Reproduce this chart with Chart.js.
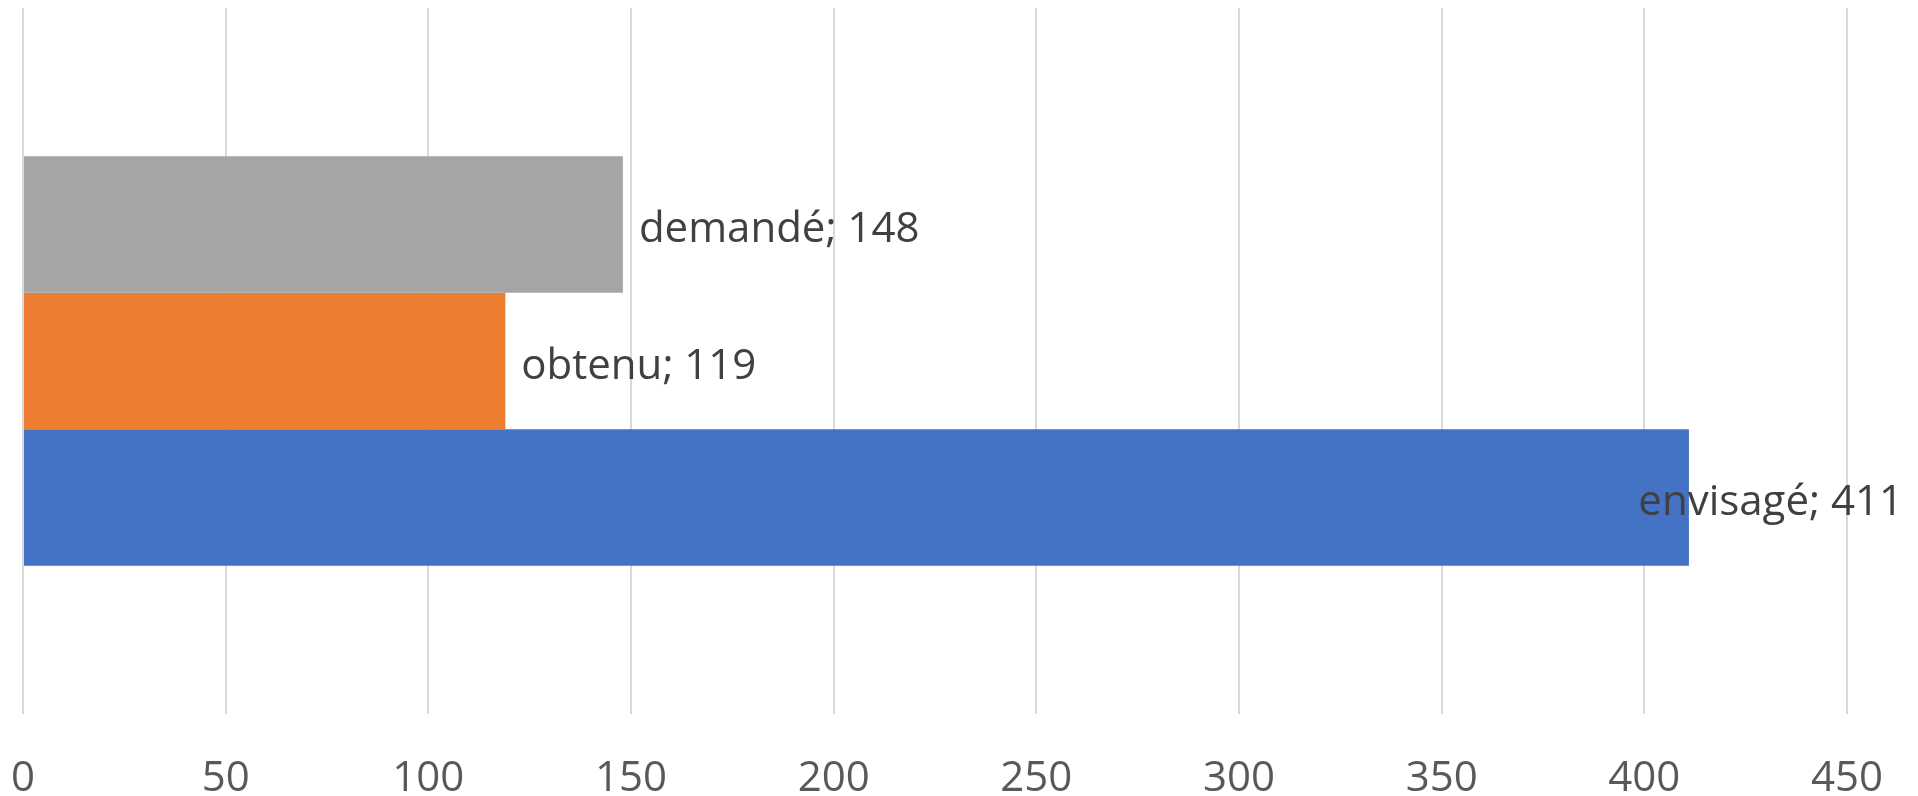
<!DOCTYPE html>
<html>
<head>
<meta charset="utf-8">
<script src="https://cdn.jsdelivr.net/npm/chart.js@4.4.1/dist/chart.umd.min.js"></script>
<style>
  html, body { margin: 0; padding: 0; background: #fff; }
  #wrap { width: 1918px; height: 796px; }
  canvas { display: block; }
</style>
</head>
<body>
<div id="wrap"><canvas id="chart" width="1918" height="796"></canvas></div>
<script>
// series, top to bottom
const seriesNames = ['demandé', 'obtenu', 'envisagé'];
const seriesValues = [148, 119, 411];
const seriesColors = ['#a5a5a5', '#ed7d31', '#4472c4'];
const categories = [''];
const axisMin = 0;
const axisMax = 450;
const axisStep = 50;

const FONT = '"Open Sans", "Liberation Sans", Arial, sans-serif';

// "name; value" labels at the end of each bar, kept inside the canvas
const endLabels = {
    id: 'endLabels',
    afterDatasetsDraw(chart) {
        const ctx = chart.ctx;
        ctx.save();
        ctx.font = '42px ' + FONT;
        ctx.fillStyle = '#404040';
        ctx.textBaseline = 'middle';
        ctx.textAlign = 'left';
        chart.data.datasets.forEach((ds, i) => {
            const el = chart.getDatasetMeta(i).data[0];
            const text = ds.label + '; ' + ds.data[0];
            const w = ctx.measureText(text).width;
            let x = el.x + 16;
            if (x + w > chart.width - 15) x = chart.width - 15 - w;
            ctx.fillText(text, x, el.y + 6);
        });
        ctx.restore();
    }
};

const datasets = seriesNames.map((name, i) => ({
    label: name,
    data: [seriesValues[i]],
    backgroundColor: seriesColors[i],
    borderWidth: 0,
    categoryPercentage: 0.58,
    barPercentage: 1.0
}));

new Chart(document.getElementById('chart'), {
    type: 'bar',
    data: { labels: categories, datasets: datasets },
    plugins: [endLabels],
    options: {
        indexAxis: 'y',
        responsive: false,
        animation: false,
        layout: { padding: { left: 23, right: 71, top: 8, bottom: 2 } },
        plugins: {
            legend: { display: false },
            tooltip: { enabled: false }
        },
        scales: {
            x: {
                min: axisMin,
                max: axisMax,
                border: { display: false },
                grid: { color: '#d9d9d9', lineWidth: 2, drawTicks: false },
                ticks: {
                    stepSize: axisStep,
                    padding: 44,
                    color: '#595959',
                    font: { family: FONT, size: 42, lineHeight: 1 },
                    maxRotation: 0
                },
                afterFit(scale) {
                    scale.height = 80;
                    scale.paddingLeft = 0;
                    scale.paddingRight = 0;
                }
            },
            y: { display: false }
        }
    }
});
</script>
</body>
</html>
